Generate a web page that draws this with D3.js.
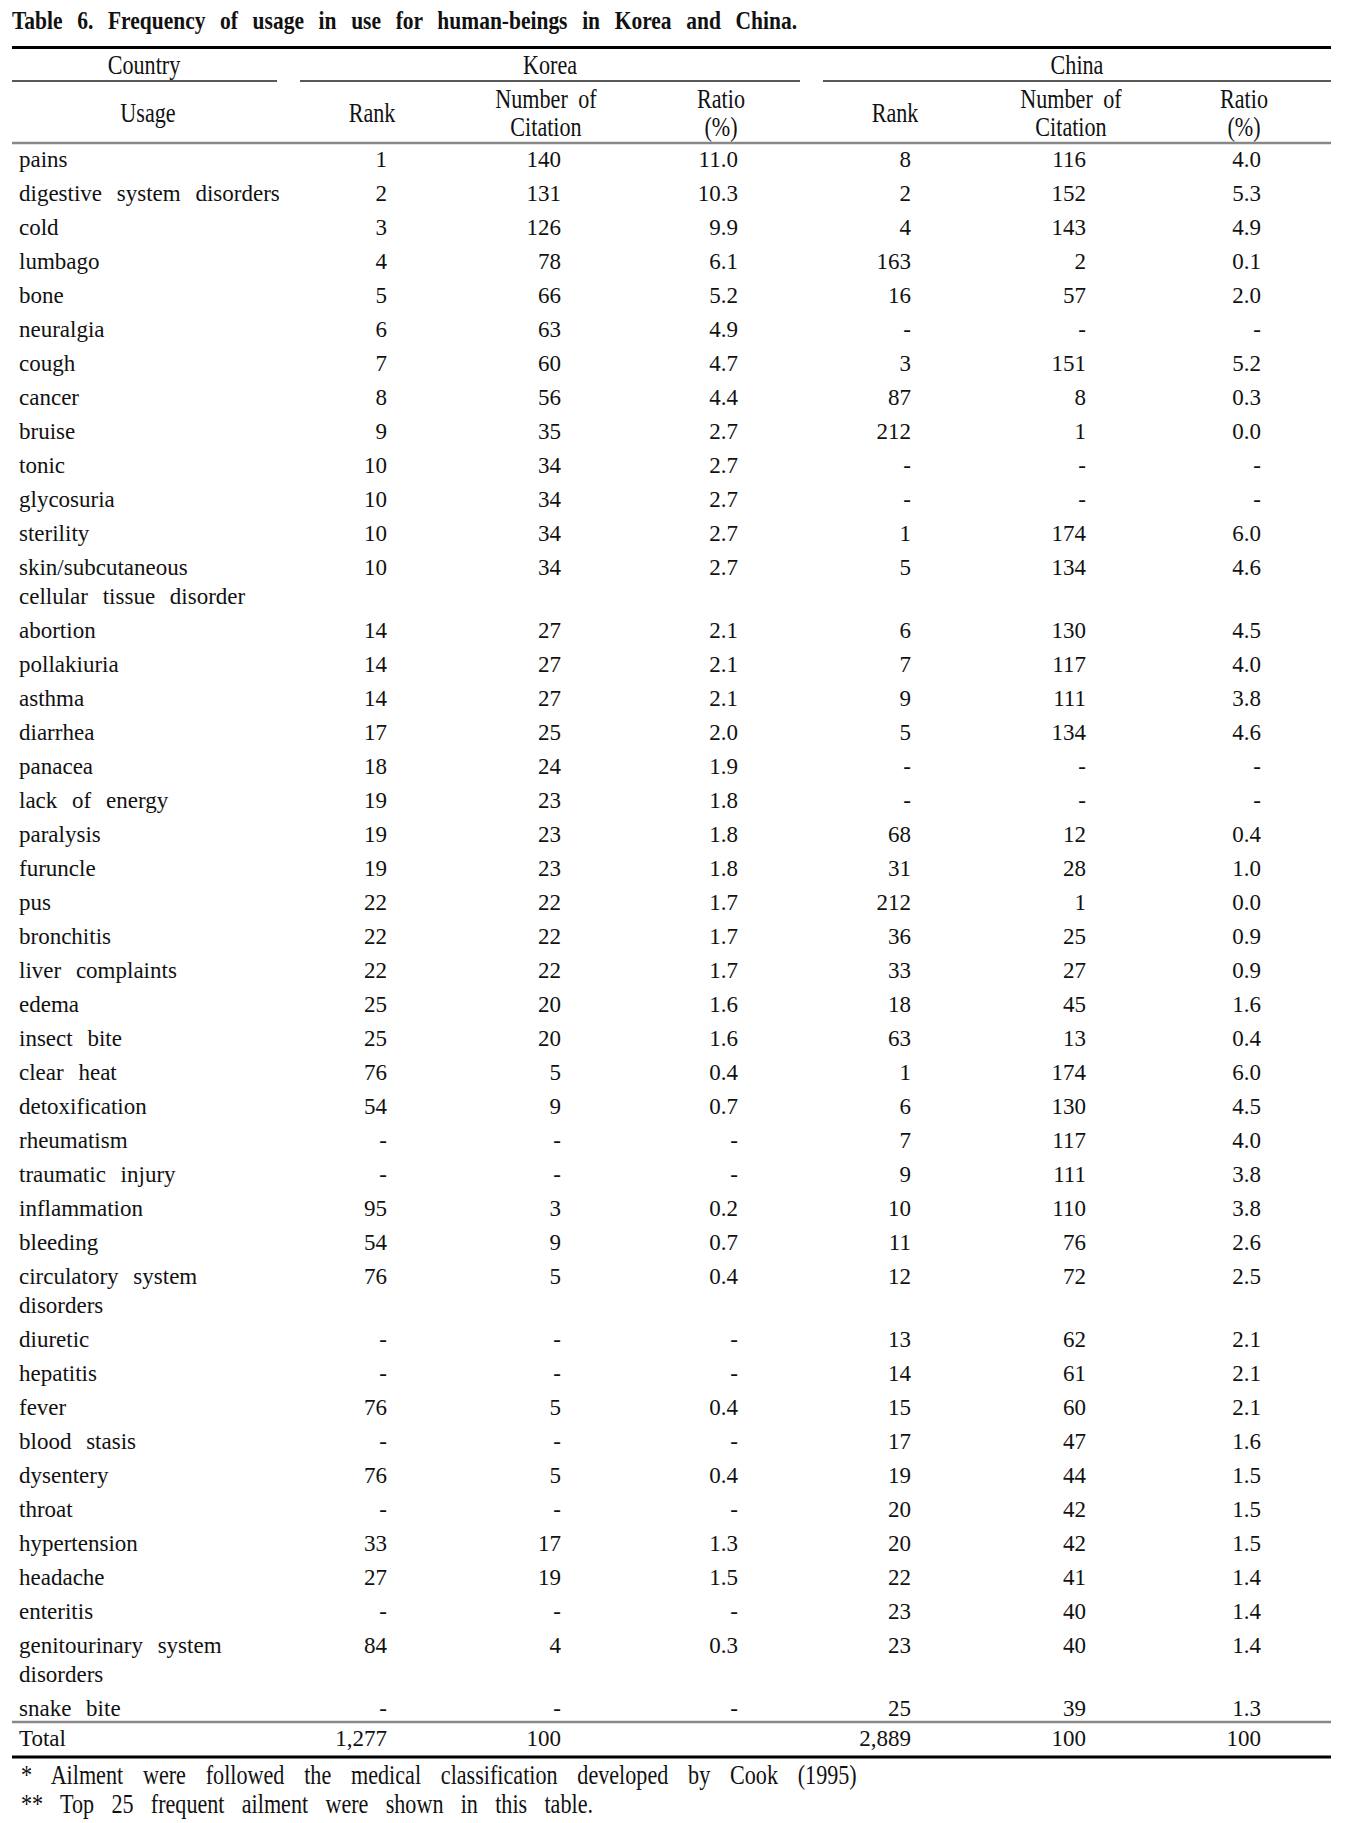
<!DOCTYPE html>
<html>
<head>
<meta charset="utf-8">
<script src="https://cdn.jsdelivr.net/npm/d3@7"></script>
<style>
  body { margin: 0; background: #fff; }
  text { font-family: "Liberation Serif", "Times New Roman", serif; fill: #111; }
</style>
</head>
<body>
<div id="chart"></div>
<script>
// table values; null = "-"
var usage = ["pains", "digestive system disorders", "cold", "lumbago", "bone", "neuralgia", "cough",
    "cancer", "bruise", "tonic", "glycosuria", "sterility", "skin/subcutaneous|cellular tissue disorder",
    "abortion", "pollakiuria", "asthma", "diarrhea", "panacea", "lack of energy", "paralysis", "furuncle",
    "pus", "bronchitis", "liver complaints", "edema", "insect bite", "clear heat", "detoxification",
    "rheumatism", "traumatic injury", "inflammation", "bleeding", "circulatory system|disorders",
    "diuretic", "hepatitis", "fever", "blood stasis", "dysentery", "throat", "hypertension", "headache",
    "enteritis", "genitourinary system|disorders", "snake bite"];

var korRank = [1, 2, 3, 4, 5, 6, 7, 8, 9, 10, 10, 10, 10, 14, 14, 14, 17, 18, 19, 19, 19, 22, 22, 22, 25, 25,
    76, 54, null, null, 95, 54, 76, null, null, 76, null, 76, null, 33, 27, null, 84, null];
var korCite = [140, 131, 126, 78, 66, 63, 60, 56, 35, 34, 34, 34, 34, 27, 27, 27, 25, 24, 23, 23, 23, 22, 22, 22, 20, 20,
    5, 9, null, null, 3, 9, 5, null, null, 5, null, 5, null, 17, 19, null, 4, null];
var korRatio = [11.0, 10.3, 9.9, 6.1, 5.2, 4.9, 4.7, 4.4, 2.7, 2.7, 2.7, 2.7, 2.7, 2.1, 2.1, 2.1, 2.0, 1.9, 1.8, 1.8, 1.8,
    1.7, 1.7, 1.7, 1.6, 1.6, 0.4, 0.7, null, null, 0.2, 0.7, 0.4, null, null, 0.4, null, 0.4, null, 1.3, 1.5, null, 0.3, null];

var chnRank = [8, 2, 4, 163, 16, null, 3, 87, 212, null, null, 1, 5, 6, 7, 9, 5, null, null, 68, 31, 212, 36, 33, 18, 63,
    1, 6, 7, 9, 10, 11, 12, 13, 14, 15, 17, 19, 20, 20, 22, 23, 23, 25];
var chnCite = [116, 152, 143, 2, 57, null, 151, 8, 1, null, null, 174, 134, 130, 117, 111, 134, null, null, 12, 28, 1, 25, 27,
    45, 13, 174, 130, 117, 111, 110, 76, 72, 62, 61, 60, 47, 44, 42, 42, 41, 40, 40, 39];
var chnRatio = [4.0, 5.3, 4.9, 0.1, 2.0, null, 5.2, 0.3, 0.0, null, null, 6.0, 4.6, 4.5, 4.0, 3.8, 4.6, null, null, 0.4, 1.0,
    0.0, 0.9, 0.9, 1.6, 0.4, 6.0, 4.5, 4.0, 3.8, 3.8, 2.6, 2.5, 2.1, 2.1, 2.1, 1.6, 1.5, 1.5, 1.5, 1.4, 1.4, 1.4, 1.3];

var totals = ["1,277", "100", "", "2,889", "100", "100"];

var title = "Table 6. Frequency of usage in use for human-beings in Korea and China.";
var countries = ["Korea", "China"];
var subHeads = [["Rank"], ["Number of", "Citation"], ["Ratio", "(%)"]];
var notes = ["*  Ailment were followed the medical classification developed by Cook (1995)",
    "** Top 25 frequent ailment were shown in this table."];

var width = 1352, height = 1823;
var left = 12, right = 1331;
var rowPitch = 34, linePitch = 29;
var condX = 0.82;
var bodySize = 23;

var svg = d3.select("#chart").append("svg")
    .attr("width", width)
    .attr("height", height);

svg.append("rect").attr("width", width).attr("height", height).attr("fill", "#fff");

// column right edges for numbers, centres for headers
var cols = ["kr", "kc", "kp", "cr", "cc", "cp"];
var colRight = d3.scaleOrdinal().domain(cols).range([387, 561, 738, 911, 1086, 1261]);
var colMid = d3.scaleOrdinal().domain(cols).range([372, 546, 721, 895, 1071, 1244]);
var groupSpan = d3.scaleOrdinal().domain(countries).range([[300, 800], [823, 1331]]);

// rows: index -> baseline, with extra space for wrapped labels
var lines = usage.map(function(d) { return d.split("|"); });
var extra = [], acc = 0;
lines.forEach(function(l) { extra.push(acc); acc += l.length - 1; });
var y = d3.scaleLinear().domain([0, 1]).range([167, 167 + rowPitch]);
function rowY(i) { return y(i) + extra[i] * linePitch; }

function fit(sel, target) {
    var n = (sel.text().match(/ /g) || []).length;
    var w = sel.node().getComputedTextLength();
    if (n > 0) sel.style("word-spacing", Math.max(0, (target - w) / n) + "px");
}

function condText(x, yy, str, anchor, size, sx) {
    return svg.append("text")
        .attr("transform", "translate(" + x + "," + yy + ") scale(" + (sx || condX) + ",1)")
        .attr("text-anchor", anchor)
        .style("font-size", size + "px")
        .text(str);
}

// title
var tsx = 0.86;
var t = condText(left, 29, title, "start", 25, tsx).style("font-weight", "bold");
fit(t, 785 / tsx);

// rules
function rule(x1, x2, yy, w, c) {
    svg.append("line").attr("x1", x1).attr("x2", x2).attr("y1", yy).attr("y2", yy)
        .attr("stroke", c).attr("stroke-width", w);
}
rule(left, right, 47.5, 3, "#000");
rule(left, 277, 81, 1.5, "#222");
countries.forEach(function(c) { rule(groupSpan(c)[0], groupSpan(c)[1], 81, 1.5, "#222"); });
rule(left, right, 143, 2.5, "#888");
rule(left, right, 1722, 2.5, "#888");
rule(left, right, 1757, 3, "#000");

// header
var hs = 27;
condText(144, 74, "Country", "middle", hs);
countries.forEach(function(c) {
    var s = groupSpan(c);
    condText((s[0] + s[1]) / 2, 74, c, "middle", hs);
});
condText(148, 122, "Usage", "middle", hs);
cols.forEach(function(c, i) {
    var h = subHeads[i % 3];
    if (h.length === 1) condText(colMid(c), 122, h[0], "middle", hs);
    else {
        condText(colMid(c), 108, h[0], "middle", hs).style("word-spacing", "6px");
        condText(colMid(c), 136, h[1], "middle", hs);
    }
});

// body
var fmtRatio = d3.format(".1f");
var series = [korRank, korCite, korRatio, chnRank, chnCite, chnRatio];
var isRatio = [false, false, true, false, false, true];

var rows = svg.selectAll(".row")
    .data(usage)
    .enter().append("g")
    .attr("class", "row")
    .attr("transform", function(d, i) { return "translate(0," + rowY(i) + ")"; });

rows.each(function(d, i) {
    var g = d3.select(this);
    lines[i].forEach(function(l, k) {
        g.append("text")
            .attr("x", 19).attr("y", k * linePitch)
            .style("font-size", bodySize + "px")
            .style("word-spacing", "9px")
            .text(l);
    });
    cols.forEach(function(c, j) {
        var v = series[j][i];
        g.append("text")
            .attr("x", colRight(c)).attr("y", 0)
            .attr("text-anchor", "end")
            .style("font-size", bodySize + "px")
            .text(v === null ? "-" : (isRatio[j] ? fmtRatio(v) : v));
    });
});

// total row
svg.append("text").attr("x", 19).attr("y", 1746).style("font-size", bodySize + "px").text("Total");
cols.forEach(function(c, j) {
    svg.append("text")
        .attr("x", colRight(c)).attr("y", 1746)
        .attr("text-anchor", "end")
        .style("font-size", bodySize + "px")
        .text(totals[j]);
});

// footnotes
var n1 = condText(21, 1784, notes[0], "start", 27);
var n2 = condText(21, 1813, notes[1], "start", 27);
fit(n1, 850 / condX);
fit(n2, 572 / condX);
</script>
</body>
</html>
